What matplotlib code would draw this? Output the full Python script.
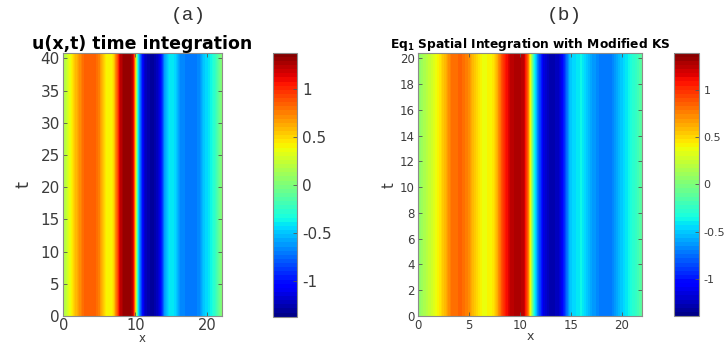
import numpy as np
import matplotlib
matplotlib.use("Agg")
import matplotlib.pyplot as plt

# ---- data: u(x) profile of the (time-independent) equilibrium ----
x_a = [0.0, 0.5, 1.0, 1.6, 2.4, 3.0, 4.3, 5.0, 5.5, 6.2, 6.9, 7.4, 7.9, 8.5, 9.3, 9.7, 10.0,
       10.2, 10.4, 10.8, 11.3, 12.3, 13.2, 13.7, 14.1, 14.8, 15.6, 16.2, 17.5, 18.8, 19.5,
       20.5, 21.3, 22.0]
u_a = [0.15, 0.25, 0.38, 0.55, 0.72, 0.85, 0.86, 0.75, 0.55, 0.38, 0.45, 0.8, 1.2, 1.32, 1.32,
       1.2, 0.6, 0.0, -0.4, -0.85, -1.2, -1.32, -1.2, -0.95, -0.6, -0.38, -0.45, -0.65, -0.72,
       -0.68, -0.5, -0.38, -0.2, 0.05]
t_a = [0.0, 40.8]

x_b = [0.0, 0.9, 1.8, 2.6, 3.3, 4.2, 4.9, 5.5, 6.3, 7.2, 7.7, 8.3, 9.0, 9.8, 10.4, 10.8,
       11.1, 11.4, 11.8, 12.3, 13.1, 13.9, 14.4, 14.9, 16.0, 17.0, 18.0, 19.0, 19.7, 20.5,
       21.3, 22.0]
u_b = [0.05, 0.2, 0.38, 0.58, 0.8, 0.84, 0.74, 0.55, 0.38, 0.4, 0.6, 0.95, 1.22, 1.3, 1.22,
       0.8, 0.2, -0.35, -0.75, -1.15, -1.3, -1.2, -0.9, -0.5, -0.38, -0.6, -0.72, -0.7, -0.55,
       -0.4, -0.25, -0.1]
t_b = [0.0, 20.4]

clim_a = (-1.375, 1.375)
clim_b = (-1.39, 1.39)
cbar_ticks = [-1, -0.5, 0, 0.5, 1]
cbar_labels = ["-1", "-0.5", "0", "0.5", "1"]
xt_a = [0, 10, 20]
yt_a = [0, 5, 10, 15, 20, 25, 30, 35, 40]
xt_b = [0, 5, 10, 15, 20]
yt_b = [0, 2, 4, 6, 8, 10, 12, 14, 16, 18, 20]

W, H = 725, 344
fig = plt.figure(figsize=(W / 100, H / 100), dpi=100)
FRAME = "#8c8c8c"
TXT = "#3c3c3c"


def frac(l, t, r, b):
    return [l / W, 1 - b / H, (r - l) / W, (b - t) / H]


def style(ax, fs, xfs_ticks, xpad):
    for s in ax.spines.values():
        s.set_color(FRAME)
        s.set_linewidth(0.8)
    ax.tick_params(direction="in", length=3, width=0.6, color="#555555",
                   labelsize=fs, labelcolor=TXT, top=True, right=True, pad=2.5)
    ax.tick_params(axis="x", pad=xpad, labelsize=xfs_ticks)


def panel(rect, crect, x, u, t, clim, xt, yt, fs, xtfs, xpad, cfs, title, tfs, tpad,
          xfs, xlab_pad, ylab_pad):
    ax = fig.add_axes(frac(*rect))
    Z = np.vstack([u, u])
    levels = np.linspace(clim[0], clim[1], 65)
    cs = ax.contourf(x, t, Z, levels=levels, cmap="jet", antialiased=False)
    ax.set_xlim(0, 22)
    ax.set_ylim(t[0], t[-1])
    ax.set_xticks(xt)
    ax.set_yticks(yt)
    style(ax, fs, xtfs, xpad)
    ax.set_xlabel("x", fontsize=xfs, color=TXT, labelpad=xlab_pad)
    ax.set_ylabel("t", fontsize=fs + 2, color=TXT, labelpad=ylab_pad)
    ax.set_title(title, fontsize=tfs, fontweight="bold", pad=tpad)
    cax = fig.add_axes(frac(*crect))
    cb = fig.colorbar(cs, cax=cax)
    cb.set_ticks(cbar_ticks)
    cb.set_ticklabels(cbar_labels)
    cb.outline.set_edgecolor(FRAME)
    cb.outline.set_linewidth(0.8)
    cax.tick_params(direction="in", length=3, width=0.6, color="#555555",
                    labelsize=cfs, labelcolor=TXT)
    return ax


panel((63.3, 53.3, 221.7, 316), (273.3, 52.7, 297.3, 316.7), x_a, u_a, t_a, clim_a,
      xt_a, yt_a, 11, 10.5, 1.5, 11, "u(x,t) time integration", 12.5, 3, 8.5, -0.5, 6)
panel((418.3, 53.3, 642.3, 316), (674.3, 52.7, 698.7, 316), x_b, u_b, t_b, clim_b,
      xt_b, yt_b, 8.5, 8.5, 2, 8, r"Eq$_{\mathbf{1}}$ Spatial Integration with Modified KS",
      8.8, 4, 9, -1, 2)

fig.text(188 / W, 1 - 16 / H, "(a)", fontsize=14, family="Liberation Mono",
         ha="center", va="center", color="#333333")
fig.text(564 / W, 1 - 16 / H, "(b)", fontsize=14, family="Liberation Mono",
         ha="center", va="center", color="#333333")

fig.savefig("out.png", dpi=100)
